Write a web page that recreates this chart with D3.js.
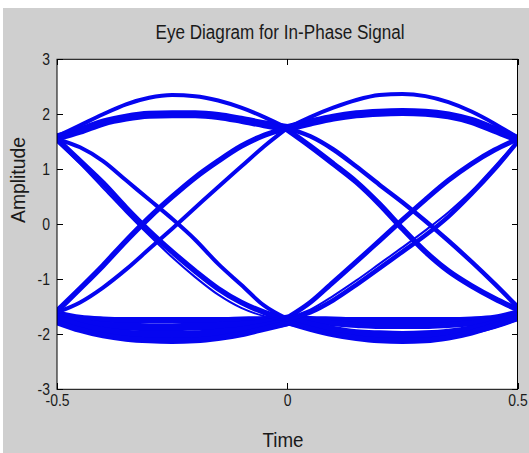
<!DOCTYPE html>
<meta charset="utf-8">
<head>
    <title>Eye Diagram</title>
</head>

<style>

body {
  margin: 0;
  background: #fff;
}

.trace {
  fill: none;
  stroke: #0505f0;
  stroke-linejoin: round;
  stroke-linecap: round;
}

.axis path {
  display: none;
}

.axis line {
  stroke: #000;
  shape-rendering: crispEdges;
}

.axis text {
  font: 17px "Liberation Sans", Arial, sans-serif;
  fill: #1a1a1a;
}

.label {
  font: 20px "Liberation Sans", Arial, sans-serif;
  fill: #1a1a1a;
}

</style>
<body>
<script src="https://cdn.jsdelivr.net/npm/d3@7/dist/d3.min.js"></script>
<script>

// sample times of the two half-periods
var timeLeft  = [-0.5, -0.45, -0.4, -0.35, -0.3, -0.25, -0.2, -0.15, -0.1, -0.05, 0];
var timeRight = [0, 0.05, 0.1, 0.15, 0.2, 0.25, 0.3, 0.35, 0.4, 0.45, 0.5];

// left half traces
var upperPeakLeft  = [1.6, 1.8, 2.0, 2.18, 2.3, 2.35, 2.33, 2.25, 2.12, 1.95, 1.75];
var upperFlatLeft  = [1.58, 1.7, 1.85, 1.94, 1.99, 2.0, 2.0, 1.97, 1.9, 1.82, 1.75];
var fallFastLeft   = [1.55, 1.15, 0.75, 0.3, -0.12, -0.5, -0.85, -1.17, -1.42, -1.6, -1.72];
var fallThinLeft   = [1.5, 1.1, 0.66, 0.22, -0.2, -0.6, -0.96, -1.28, -1.52, -1.67, -1.75];
var fallSlowLeft   = [1.55, 1.4, 1.15, 0.8, 0.45, 0.1, -0.28, -0.72, -1.1, -1.48, -1.72];
var riseFastLeft   = [-1.58, -1.17, -0.75, -0.3, 0.12, 0.5, 0.85, 1.15, 1.42, 1.62, 1.75];
var riseSlowLeft   = [-1.6, -1.42, -1.15, -0.82, -0.45, -0.08, 0.3, 0.68, 1.05, 1.42, 1.75];
var lowerFlatLeft  = [-1.62, -1.7, -1.73, -1.74, -1.74, -1.74, -1.74, -1.74, -1.73, -1.72, -1.7];
var lowerMidLeft   = [-1.68, -1.78, -1.84, -1.86, -1.87, -1.87, -1.86, -1.85, -1.83, -1.8, -1.75];
var lowerDeepLeft  = [-1.72, -1.85, -1.94, -1.99, -2.01, -2.01, -2.0, -1.97, -1.93, -1.86, -1.78];
var lowerDipLeft   = [-1.78, -1.92, -2.02, -2.08, -2.11, -2.12, -2.11, -2.07, -2.0, -1.9, -1.8];

// right half traces
var upperPeakRight = [1.75, 1.95, 2.12, 2.26, 2.35, 2.37, 2.33, 2.22, 2.05, 1.83, 1.58];
var upperFlatRight = [1.75, 1.85, 1.94, 2.0, 2.03, 2.04, 2.03, 1.98, 1.88, 1.72, 1.55];
var fallFastRight  = [1.72, 1.42, 1.1, 0.77, 0.37, -0.08, -0.5, -0.85, -1.12, -1.35, -1.55];
var fallSlowRight  = [1.75, 1.6, 1.36, 1.05, 0.72, 0.4, 0.06, -0.3, -0.68, -1.08, -1.5];
var riseFastRight  = [-1.7, -1.42, -1.05, -0.68, -0.3, 0.08, 0.45, 0.8, 1.1, 1.35, 1.55];
var riseSlowRight  = [-1.72, -1.6, -1.38, -1.1, -0.8, -0.5, -0.2, 0.14, 0.55, 1.0, 1.5];
var riseThinRight  = [-1.7, -1.55, -1.3, -1.02, -0.72, -0.42, -0.11, 0.22, 0.6, 1.05, 1.52];
var lowerFlatRight = [-1.7, -1.72, -1.73, -1.74, -1.74, -1.74, -1.74, -1.74, -1.73, -1.7, -1.6];
var lowerMidRight  = [-1.72, -1.76, -1.8, -1.83, -1.85, -1.85, -1.85, -1.83, -1.8, -1.75, -1.65];
var lowerDeepRight = [-1.75, -1.84, -1.93, -1.99, -2.01, -2.02, -2.01, -1.98, -1.92, -1.82, -1.68];
var lowerDipRight  = [-1.78, -1.9, -2.0, -2.07, -2.11, -2.12, -2.11, -2.06, -1.97, -1.84, -1.7];

var xTicks = [-0.5, 0, 0.5];
var yTicks = [-3, -2, -1, 0, 1, 2, 3];

// [times, values, stroke width]
var traces = [
  [timeLeft, lowerFlatLeft, 6], [timeLeft, lowerMidLeft, 8], [timeLeft, lowerDeepLeft, 8], [timeLeft, lowerDipLeft, 6],
  [timeRight, lowerFlatRight, 6], [timeRight, lowerMidRight, 6], [timeRight, lowerDeepRight, 9], [timeRight, lowerDipRight, 6],
  [timeLeft, upperFlatLeft, 8], [timeLeft, upperPeakLeft, 4],
  [timeRight, upperFlatRight, 8], [timeRight, upperPeakRight, 4],
  [timeLeft, fallFastLeft, 5.5], [timeLeft, fallThinLeft, 2], [timeLeft, fallSlowLeft, 4],
  [timeLeft, riseFastLeft, 5.5], [timeLeft, riseSlowLeft, 4],
  [timeRight, fallFastRight, 5.5], [timeRight, fallSlowRight, 4.5],
  [timeRight, riseFastRight, 5], [timeRight, riseSlowRight, 4.5], [timeRight, riseThinRight, 2]
];

var W = 529, H = 453;
var plot = {left: 57, right: 517.5, top: 59.3, bottom: 389.3};

var svg = d3.select("body").append("svg")
    .attr("width", W)
    .attr("height", H);

// figure background
svg.append("rect")
    .attr("x", 3).attr("y", 8)
    .attr("width", W - 3).attr("height", H - 8)
    .style("fill", "#cfcfcf");

var x = d3.scaleLinear()
    .domain([-0.5, 0.5])
    .range([plot.left, plot.right]);

var y = d3.scaleLinear()
    .domain([-3, 3])
    .range([plot.bottom, plot.top]);

svg.append("rect")
    .attr("x", plot.left).attr("y", plot.top)
    .attr("width", plot.right - plot.left)
    .attr("height", plot.bottom - plot.top)
    .style("fill", "#fff");

svg.append("clipPath")
    .attr("id", "clip")
  .append("rect")
    .attr("x", plot.left).attr("y", plot.top)
    .attr("width", plot.right - plot.left)
    .attr("height", plot.bottom - plot.top);

var line = d3.line()
    .x(function(d) { return x(d[0]); })
    .y(function(d) { return y(d[1]); })
    .curve(d3.curveMonotoneX);

svg.append("g")
    .attr("clip-path", "url(#clip)")
  .selectAll("path")
    .data(traces)
  .enter().append("path")
    .attr("class", "trace")
    .style("stroke-width", function(d) { return d[2]; })
    .attr("d", function(d) { return line(d3.zip(d[0], d[1])); });

var plain = function(d) { return String(d); };

// axes, ticks pointing inward like matlab
svg.append("g")
    .attr("class", "axis")
    .attr("transform", "translate(0," + plot.bottom + ")")
    .call(d3.axisBottom(x).tickValues(xTicks).tickSizeInner(-6).tickSizeOuter(0).tickPadding(5)
      .tickFormat(plain));

svg.append("g")
    .attr("class", "axis")
    .attr("transform", "translate(0," + plot.top + ")")
    .call(d3.axisTop(x).tickValues(xTicks).tickSizeInner(-6).tickSizeOuter(0).tickFormat(""));

svg.append("g")
    .attr("class", "axis")
    .attr("transform", "translate(" + plot.left + ",0)")
    .call(d3.axisLeft(y).tickValues(yTicks).tickSizeInner(-6).tickSizeOuter(0).tickPadding(7)
      .tickFormat(plain));

svg.append("g")
    .attr("class", "axis")
    .attr("transform", "translate(" + plot.right + ",0)")
    .call(d3.axisRight(y).tickValues(yTicks).tickSizeInner(-6).tickSizeOuter(0).tickFormat(""));

// squeeze the tick labels a bit, the original is narrow
svg.selectAll(".axis text").each(function() {
  var len = this.getComputedTextLength();
  if (len > 0) {
    d3.select(this)
        .attr("textLength", len * 0.82)
        .attr("lengthAdjust", "spacingAndGlyphs");
  }
});

// frame
svg.append("rect")
    .attr("x", plot.left).attr("y", plot.top)
    .attr("width", plot.right - plot.left)
    .attr("height", plot.bottom - plot.top)
    .style("fill", "none")
    .style("stroke", "#000")
    .style("stroke-width", 1);

svg.append("text")
    .attr("class", "label")
    .attr("x", 280).attr("y", 39)
    .attr("text-anchor", "middle")
    .attr("textLength", 249)
    .attr("lengthAdjust", "spacingAndGlyphs")
    .text("Eye Diagram for In-Phase Signal");

svg.append("text")
    .attr("class", "label")
    .attr("x", 283).attr("y", 447)
    .attr("text-anchor", "middle")
    .attr("textLength", 41)
    .attr("lengthAdjust", "spacingAndGlyphs")
    .text("Time");

svg.append("text")
    .attr("class", "label")
    .attr("transform", "translate(25,180) rotate(-90)")
    .attr("text-anchor", "middle")
    .attr("textLength", 86)
    .attr("lengthAdjust", "spacingAndGlyphs")
    .text("Amplitude");

</script>
</body>
